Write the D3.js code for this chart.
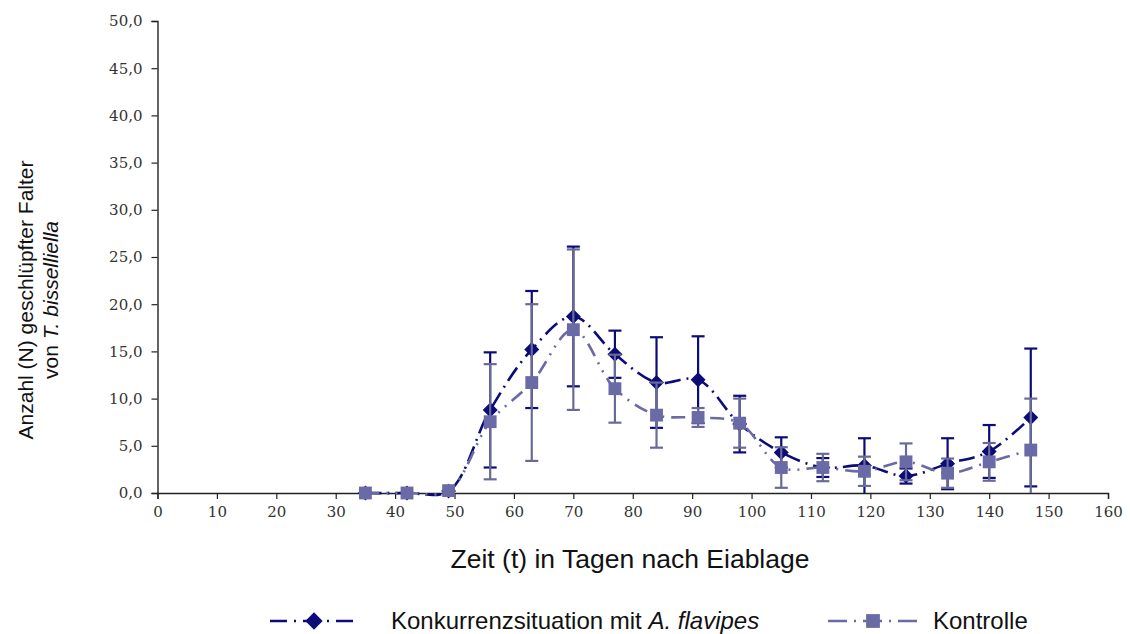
<!DOCTYPE html>
<html>
<head>
<meta charset="utf-8">
<script src="https://cdn.jsdelivr.net/npm/d3@7"></script>
<style>
  html, body { margin: 0; padding: 0; background: #fff; }
  svg { display: block; }
</style>
</head>
<body>
<svg id="chart" width="1130" height="634"></svg>
<script>
// ---- data ----
const days = [35, 42, 49, 56, 63, 70, 77, 84, 91, 98, 105, 112, 119, 126, 133, 140, 147];
const konkurrenz = [0, 0, 0.2, 8.8, 15.2, 18.7, 14.7, 11.7, 12.0, 7.3, 4.3, 2.7, 2.9, 1.8, 3.1, 4.4, 8.0];
const konkurrenzSd = [0, 0, 0, 6.1, 6.2, 7.4, 2.5, 4.8, 4.6, 3.0, 1.6, 1.0, 2.9, 0.8, 2.7, 2.8, 7.3];
const kontrolle = [0, 0, 0.25, 7.55, 11.7, 17.3, 11.05, 8.25, 8.0, 7.4, 2.7, 2.7, 2.3, 3.3, 2.1, 3.3, 4.55];
const kontrolleSd = [0, 0, 0, 6.1, 8.3, 8.5, 3.6, 3.45, 1.0, 2.6, 2.15, 1.45, 1.55, 1.95, 1.55, 2.0, 5.45];
const xTicks = [0, 10, 20, 30, 40, 50, 60, 70, 80, 90, 100, 110, 120, 130, 140, 150, 160];
const yTicks = [0, 5, 10, 15, 20, 25, 30, 35, 40, 45, 50];

const svg = d3.select("#chart");
const x = d3.scaleLinear().domain([0, 160]).range([157.5, 1108]);
const y = d3.scaleLinear().domain([0, 50]).range([493, 21]);

const tickFont = "'DejaVu Serif', serif";
const sansFont = "Arial, 'Liberation Sans', sans-serif";

// axes
const yAxis = d3.axisLeft(y).tickValues(yTicks).tickSize(6).tickPadding(9)
  .tickFormat(d => d3.format(".1f")(d).replace(".", ","));
const gy = svg.append("g").attr("transform", `translate(${x(0)},0)`).call(yAxis);
gy.select(".domain").attr("stroke", "#222").attr("stroke-width", 1.4);
gy.selectAll(".tick line").attr("stroke", "#222").attr("stroke-width", 1.2);
gy.selectAll(".tick text").attr("font-family", tickFont).attr("font-size", 15).attr("fill", "#333");

const xAxis = d3.axisBottom(x).tickValues(xTicks).tickSize(6).tickPadding(7).tickFormat(d3.format("d"));
const gx = svg.append("g").attr("transform", `translate(0,${y(0)})`).call(xAxis);
gx.select(".domain").attr("stroke", "#222").attr("stroke-width", 1.4);
gx.selectAll(".tick line").attr("stroke", "#222").attr("stroke-width", 1.2);
gx.selectAll(".tick text").attr("font-family", tickFont).attr("font-size", 15).attr("fill", "#333");

// axis titles
const yt = svg.append("text")
  .attr("transform", `translate(33,300) rotate(-90)`)
  .attr("text-anchor", "middle")
  .attr("font-family", sansFont).attr("font-size", 21).attr("fill", "#111");
yt.append("tspan").attr("x", 0).attr("dy", 0).text("Anzahl (N) geschlüpfter Falter");
const l2 = yt.append("tspan").attr("x", 0).attr("dy", 25);
l2.append("tspan").text("von ");
l2.append("tspan").attr("font-style", "italic").text("T. bisselliella");

svg.append("text")
  .attr("x", 630).attr("y", 568)
  .attr("text-anchor", "middle")
  .attr("font-family", sansFont).attr("font-size", 26.5).attr("fill", "#111")
  .text("Zeit (t) in Tagen nach Eiablage");

// diamond = square rotated 45°
const diamondSym = { draw(ctx, size) { const r = Math.sqrt(size / 2); ctx.moveTo(0, -r); ctx.lineTo(r, 0); ctx.lineTo(0, r); ctx.lineTo(-r, 0); ctx.closePath(); } };

// series
const series = [
  { vals: konkurrenz, sd: konkurrenzSd, color: "#0c0c78", err: "#0c0c78",
    dash: "16,6,2,6", shape: diamondSym, size: 112 },
  { vals: kontrolle, sd: kontrolleSd, color: "#6a6aa6", err: "#6a6a98",
    dash: "14,7,2,7,2,7", shape: d3.symbolSquare, size: 165 }
];

const line = d3.line().curve(d3.curveCatmullRom.alpha(0.5));

series.forEach(s => {
  const g = svg.append("g");
  const pts = days.map((d, i) => [x(d), y(s.vals[i])]);
  g.append("path").attr("d", line(pts)).attr("fill", "none")
    .attr("stroke", s.color).attr("stroke-width", 2.6).attr("stroke-dasharray", s.dash);
  // error bars
  days.forEach((d, i) => {
    if (s.sd[i] <= 0) return;
    const hi = s.vals[i] + s.sd[i];
    const lo = Math.max(0, s.vals[i] - s.sd[i]);
    const cx = x(d);
    g.append("line").attr("x1", cx).attr("x2", cx).attr("y1", y(hi)).attr("y2", y(lo))
      .attr("stroke", s.err).attr("stroke-width", 2.2);
    g.append("line").attr("x1", cx - 6.5).attr("x2", cx + 6.5).attr("y1", y(hi)).attr("y2", y(hi))
      .attr("stroke", s.err).attr("stroke-width", 2.2);
    if (s.vals[i] - s.sd[i] > 0.2)
      g.append("line").attr("x1", cx - 6.5).attr("x2", cx + 6.5).attr("y1", y(lo)).attr("y2", y(lo))
        .attr("stroke", s.err).attr("stroke-width", 2.2);
  });
  g.selectAll("path.m").data(days).join("path").attr("class", "m")
    .attr("transform", (d, i) => `translate(${x(d)},${y(s.vals[i])})`)
    .attr("d", d3.symbol().type(s.shape).size(s.size)())
    .attr("fill", s.color);
});

// legend
const legend = [
  { label: ["Konkurrenzsituation mit ", "A. flavipes"], color: "#0c0c78", dash: "17,7,2,7", shape: diamondSym, size: 150, x0: 270, x1: 358, tx: 391 },
  { label: ["Kontrolle", ""], color: "#6a6aa6", dash: "19,7,2,7", shape: d3.symbolSquare, size: 190, x0: 828, x1: 918, tx: 933 }
];
legend.forEach(l => {
  const ly = 621;
  svg.append("line").attr("x1", l.x0).attr("x2", l.x1).attr("y1", ly).attr("y2", ly)
    .attr("stroke", l.color).attr("stroke-width", 2.6).attr("stroke-dasharray", l.dash);
  svg.append("path").attr("transform", `translate(${(l.x0 + l.x1) / 2},${ly})`)
    .attr("d", d3.symbol().type(l.shape).size(l.size)()).attr("fill", l.color);
  const t = svg.append("text").attr("x", l.tx).attr("y", ly + 8)
    .attr("font-family", sansFont).attr("font-size", 24).attr("fill", "#111");
  t.append("tspan").text(l.label[0]);
  if (l.label[1]) t.append("tspan").attr("font-style", "italic").text(l.label[1]);
});
</script>
</body>
</html>
